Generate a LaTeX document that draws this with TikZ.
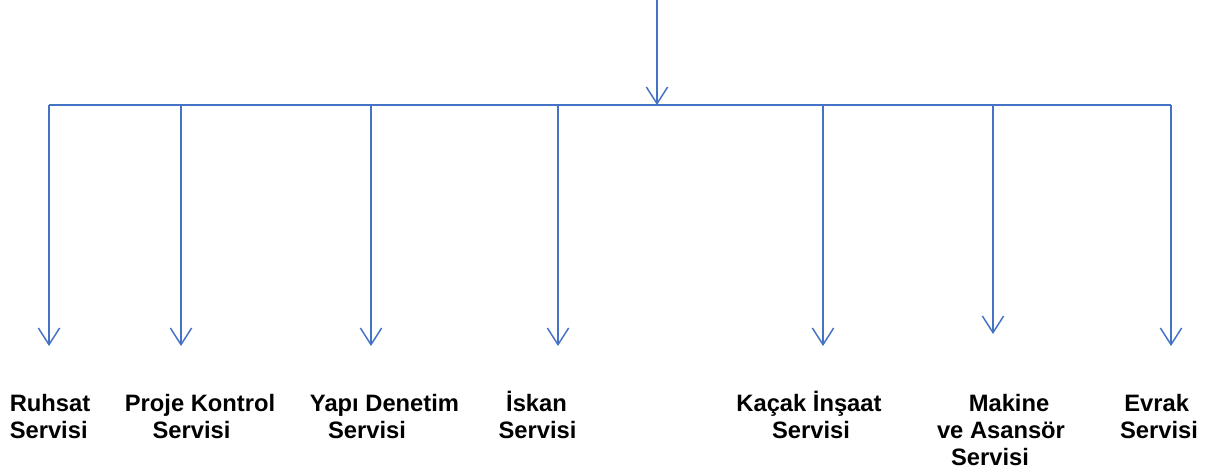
\documentclass[tikz,border=0pt]{standalone}
\usepackage{fontspec}
\setmainfont{Liberation Sans}
\usetikzlibrary{arrows.meta}
\definecolor{lineblue}{RGB}{68,114,196}
\tikzset{
  conn/.style={draw=lineblue, line width=1.1pt},
  arr/.style={conn, -{Straight Barb[length=12.5pt,width=16pt,line width=1.1pt]}},
  lbl/.style={anchor=base, inner sep=0pt, font=\bfseries\fontsize{17.8}{20}\selectfont}
}
\begin{document}
\begin{tikzpicture}[x=0.75pt,y=-0.75pt]
\useasboundingbox (0,0) rectangle (1212,472);
% coordinates
\coordinate (top) at (657,0);
\coordinate (hub) at (657,105);
\foreach \n/\x/\y in {1/49/346,2/181/346,3/371/346,4/558/346,5/823/346,6/993/334,7/1171/346}{
  \coordinate (b\n) at (\x,105);
  \coordinate (t\n) at (\x,\y);
}
% connectors
\draw[arr] (top) -- (hub);
\draw[conn] (b1) -- (b7);
\foreach \n in {1,...,7}{
  \draw[arr] (b\n) -- (t\n);
}
% labels
\node[lbl] (l1a) at (50,411.5) {Ruhsat};
\node[lbl] (l1b) at (48.7,438) {Servisi};
\node[lbl] (l2a) at (200,411.5) {Proje Kontrol};
\node[lbl] (l2b) at (191.5,438) {Servisi};
\node[lbl] (l3a) at (384.5,411.5) {Yapı Denetim};
\node[lbl] (l3b) at (367,438) {Servisi};
\node[lbl] (l4a) at (536.5,411.5) {İskan};
\node[lbl] (l4b) at (537.5,438) {Servisi};
\node[lbl] (l5a) at (809,411.5) {Kaçak İnşaat};
\node[lbl] (l5b) at (811,438) {Servisi};
\node[lbl] (l6a) at (1009,411.5) {Makine};
\node[lbl] (l6b) at (1001,438) {ve Asansör};
\node[lbl] (l6c) at (990,465) {Servisi};
\node[lbl] (l7a) at (1156.7,411.5) {Evrak};
\node[lbl] (l7b) at (1159,438) {Servisi};
\end{tikzpicture}
\end{document}
